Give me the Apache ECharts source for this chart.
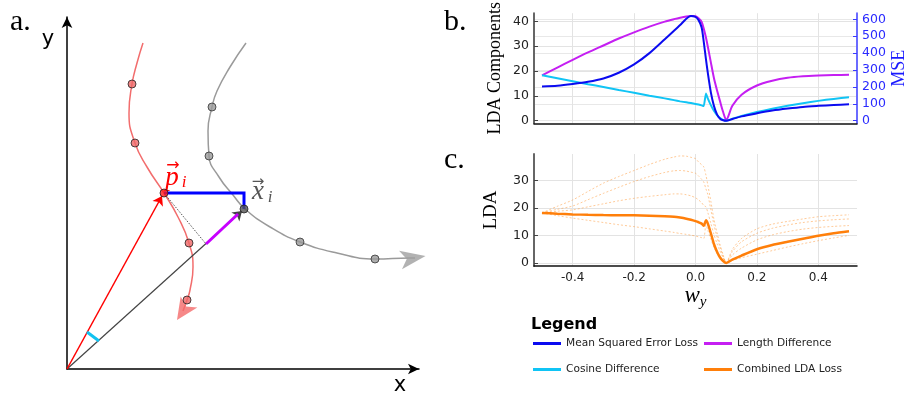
<!DOCTYPE html>
<html><head><meta charset="utf-8">
<script src="https://cdn.jsdelivr.net/npm/echarts@6/dist/echarts.min.js"></script>
<style>html,body{margin:0;padding:0;background:#fff}#c{width:910px;height:399px}</style>
</head><body><div id="c"></div>
<script>
// ---------- Panel a: diagram (units = diagram coordinates) ----------
const redCurve = [[76,326],[70,306],[65,285],[62,256],[68,226],[80,202],[97,176],[111,152],[122,126],[126,102],[123,79],[120,69],[116,58]];
const redArrow = [[116,58],[104,40]];           // base, tip
const grayCurve = [[179,326],[163,302],[150,278],[145,262],[141,238],[142,213],[152,192],[166,174],[178,160],[203,142],[233,127],[270,116],[308,110],[343,111],[348,111]];
const grayArrow = [[346,111],[371,115]];        // base, tip
const redDots = [[65,285],[68,226],[122,126],[120,69]];
const grayDots = [[145,262],[142,213],[233,127],[308,110]];
const pI = [97,176];
const xI = [177,160];
const projPt = [139,125];
const vecRed = [[0,0],[95,173]];
const vecGray = [[0,0],[175,158]];
const lenSeg = [[139,125],[171,155]];
const mseBox = [[97,176],[177,176],[177,160]];
const cosSeg = [[20,37],[32,28]];

// ---------- Panels b / c ----------
const wy = [-0.5,-0.45,-0.4,-0.35,-0.3,-0.25,-0.2,-0.15,-0.1,-0.07,-0.05,-0.03,-0.015,0,0.01,0.02,0.027,0.034,0.04,0.05,0.06,0.07,0.08,0.09,0.1,0.12,0.15,0.2,0.25,0.3,0.35,0.4,0.45,0.5];
const mse = [203,207,217,230,250,284,333,400,482,532,566,603,619,614,595,552,465,364,284,168,88,38,12,3,0,10,26,44,60,72,82,88,93,97];
const lenDiff = [18.3,21.4,24.5,27.5,30.3,33.1,35.6,37.9,39.9,40.9,41.5,42.0,42.2,42.1,41.3,39.8,37.0,33.5,29.9,23.5,17.2,12.3,7.8,3.5,0.3,6.0,10.5,14.2,16.1,17.3,17.9,18.2,18.4,18.5];
const cosDiff = [18.3,17.1,15.9,14.7,13.6,12.4,11.25,10.1,9.0,8.3,7.8,7.4,7.1,6.75,6.5,6.2,5.9,11.0,9.0,6.3,4.0,2.3,1.1,0.35,0,0.8,1.9,3.5,4.8,6.0,7.0,8.0,8.8,9.5];
const combined = [18.3,18.0,17.75,17.6,17.5,17.45,17.4,17.3,17.1,16.9,16.6,16.2,15.8,15.3,14.9,14.4,13.6,15.6,14.5,10.9,7.0,4.2,2.1,0.8,0.1,1.3,2.8,5.1,6.65,7.8,8.9,10.0,10.9,11.6];
const ldaW1 = [18.3,20.7,23.0,26.1,29.1,31.5,33.7,35.9,37.8,38.6,39.0,38.9,38.5,38.0,36.8,35.8,35.0,32.0,28.5,22.5,16.0,11.2,6.8,3.0,0.2,5.0,9.0,12.5,14.2,15.2,16.1,16.9,17.3,17.6];
const ldaW2 = [18.3,19.6,20.8,23.1,25.4,27.6,29.7,31.5,33.0,33.6,33.7,33.5,33.1,32.7,31.7,30.5,29.5,27.0,25.0,19.5,14.0,9.6,5.8,2.6,0.2,4.2,7.8,10.9,12.7,13.9,14.8,15.4,15.8,16.1];
const ldaW3 = [18.3,18.9,19.4,20.5,21.6,22.7,23.6,24.3,24.9,25.2,25.2,24.9,24.5,23.8,23.0,22.0,21.0,20.5,18.5,14.5,10.5,7.2,4.4,2.0,0.2,3.0,5.5,8.5,10.3,11.5,12.4,13.0,13.4,13.7];
const ldaW4 = [18.3,17.3,16.4,15.6,14.8,14.0,13.3,12.5,11.7,11.2,10.8,10.5,10.2,9.9,9.6,9.3,9.0,14.0,12.0,8.8,5.8,3.5,1.8,0.6,0.1,1.0,2.0,3.3,4.6,5.9,7.1,8.2,9.2,10.1];

const xTicks = [-0.4,-0.2,0,0.2,0.4];
const bLeftTicks = [0,10,20,30,40];
const bRightTicks = [0,100,200,300,400,500,600];
const cTicks = [0,10,20,30];
const legendNames = ['Mean Squared Error Loss','Length Difference','Cosine Difference','Combined LDA Loss'];

const C_BLUE = '#0b0bf0', C_MAG = '#c51ff2', C_CYAN = '#10c4f5', C_ORANGE = '#ff7f0a';

const zip = (xs, ys) => xs.map((x, i) => [x, ys[i]]);
function arrowHead(seg, width) {
  const [b, t] = seg;
  const dx = t[0]-b[0], dy = t[1]-b[1];
  const len = Math.hypot(dx, dy);
  const rot = Math.atan2(dy, dx) * 180 / Math.PI - 90;
  return { center: [(b[0]+t[0])/2, (b[1]+t[1])/2], rot, size: [width, len] };
}
const rA = arrowHead(redArrow, 15);
const gA = arrowHead(grayArrow, 14);

const serif = 'Liberation Serif';
const sans = 'DejaVu Sans';

const xAxisBC = (grid, showLabels) => ({
  gridIndex: grid, type: 'value', min: -0.526, max: 0.526,
  axisLine: { show: true, onZero: false, lineStyle: { color: '#111', width: 1.5 } },
  axisTick: { show: false, customValues: xTicks },
  axisLabel: { show: showLabels, customValues: xTicks, fontFamily: sans, fontSize: 12, color: '#222', margin: 6,
               formatter: v => v.toFixed(1) },
  splitLine: { show: true, lineStyle: { color: '#e3e3e3', width: 1 } }
});

const dashedSeries = [ldaW1, ldaW2, ldaW3, ldaW4].map((arr, i) => ({
  type: 'line', name: 'w' + (i+1), xAxisIndex: 2, yAxisIndex: 3, data: zip(wy, arr),
  showSymbol: false, smooth: 0.25, silent: true,
  lineStyle: { color: 'rgba(255,140,30,0.45)', width: 1, type: [2, 2] }
}));

const hidden = { axisLabel: { show: false }, axisTick: { show: false }, splitLine: { show: false } };

const option = {
  animation: false,
  backgroundColor: '#fff',
  grid: [
    { left: 67, top: 17, width: 352, height: 352 },
    { left: 534, top: 11, width: 323, height: 112.3 },
    { left: 534, top: 154, width: 323, height: 112 }
  ],
  xAxis: [
    Object.assign({ gridIndex: 0, type: 'value', min: 0, max: 352,
      axisLine: { show: true, onZero: false, symbol: ['none', 'arrow'], symbolSize: [8, 11], lineStyle: { color: '#000', width: 1.5 } } }, hidden),
    xAxisBC(1, false),
    Object.assign(xAxisBC(2, true), {
      name: '{w|w}{s|y}', nameLocation: 'middle', nameGap: 14,
      nameTextStyle: { rich: {
        w: { fontFamily: serif, fontStyle: 'italic', fontSize: 23, color: '#000' },
        s: { fontFamily: serif, fontStyle: 'italic', fontSize: 15, color: '#000', padding: [12, 0, 0, 0] }
      } }
    })
  ],
  yAxis: [
    Object.assign({ gridIndex: 0, type: 'value', min: 0, max: 352,
      axisLine: { show: true, onZero: false, symbol: ['none', 'arrow'], symbolSize: [8, 11], lineStyle: { color: '#000', width: 1.5 } } }, hidden),
    { gridIndex: 1, type: 'value', min: -1.03, max: 43.3, position: 'left',
      name: 'LDA Components', nameLocation: 'middle', nameGap: 30, nameRotate: 90,
      nameTextStyle: { fontFamily: serif, fontSize: 18, color: '#000' },
      axisLine: { show: true, onZero: false, lineStyle: { color: '#666', width: 2 } },
      axisTick: { show: true, inside: true, length: 4, customValues: bLeftTicks, lineStyle: { color: '#444' } },
      axisLabel: { customValues: bLeftTicks, fontFamily: sans, fontSize: 12.5, color: '#222', margin: 5 },
      splitLine: { show: true, lineStyle: { color: '#e3e3e3' } } },
    { gridIndex: 1, type: 'value', min: -15.1, max: 636, position: 'right',
      name: 'MSE', nameLocation: 'middle', nameGap: 33, nameRotate: 90,
      nameTextStyle: { fontFamily: serif, fontSize: 18, color: '#1a1aff' },
      axisLine: { show: true, onZero: false, lineStyle: { color: '#6b6bff', width: 2 } },
      axisTick: { show: true, inside: true, length: 4, customValues: bRightTicks, lineStyle: { color: '#3a3aff' } },
      axisLabel: { customValues: bRightTicks, fontFamily: sans, fontSize: 12.5, color: '#2a2aff', margin: 5 },
      splitLine: { show: true, lineStyle: { color: '#e8e8e8' } } },
    { gridIndex: 2, type: 'value', min: -1.0, max: 39.7,
      name: 'LDA', nameLocation: 'middle', nameGap: 33, nameRotate: 90,
      nameTextStyle: { fontFamily: serif, fontSize: 19, color: '#000' },
      axisLine: { show: true, onZero: false, lineStyle: { color: '#666', width: 2 } },
      axisTick: { show: true, inside: true, length: 4, customValues: cTicks, lineStyle: { color: '#444' } },
      axisLabel: { customValues: cTicks, fontFamily: sans, fontSize: 12.5, color: '#222', margin: 5 },
      splitLine: { show: true, lineStyle: { color: '#e3e3e3' } } }
  ],
  legend: legendNames.map((n, i) => ({
    data: [n], left: i % 2 === 0 ? 533 : 704, top: i < 2 ? 338 : 364, padding: 0,
    icon: 'rect', itemWidth: 28, itemHeight: 3, selectedMode: false,
    textStyle: { fontFamily: sans, fontSize: 10.6, color: '#222' }
  })),
  graphic: [
    { type: 'text', x: 10, y: 22, style: { text: 'a.', font: '30px "Liberation Serif"', fill: '#000', verticalAlign: 'middle' } },
    { type: 'text', x: 444, y: 22, style: { text: 'b.', font: '30px "Liberation Serif"', fill: '#000', verticalAlign: 'middle' } },
    { type: 'text', x: 444, y: 160, style: { text: 'c.', font: '30px "Liberation Serif"', fill: '#000', verticalAlign: 'middle' } },
    { type: 'text', x: 400, y: 386, style: { text: 'x', font: '21px "DejaVu Sans"', fill: '#000', align: 'center', verticalAlign: 'middle' } },
    { type: 'text', x: 48, y: 40, style: { text: 'y', font: '21px "DejaVu Sans"', fill: '#000', align: 'center', verticalAlign: 'middle' } },
    { type: 'text', x: 173, y: 166, style: { text: '\u2192', font: '16px "DejaVu Sans"', fill: '#f00', align: 'center', verticalAlign: 'middle' } },
    { type: 'text', x: 172, y: 178, style: { text: 'p', font: 'italic 27px "Liberation Serif"', fill: '#f00', align: 'center', verticalAlign: 'middle' } },
    { type: 'text', x: 184, y: 183, style: { text: 'i', font: 'italic 17px "Liberation Serif"', fill: '#f00', align: 'center', verticalAlign: 'middle' } },
    { type: 'text', x: 258, y: 182, style: { text: '\u2192', font: '15px "DejaVu Sans"', fill: '#555', align: 'center', verticalAlign: 'middle' } },
    { type: 'text', x: 258, y: 192, style: { text: 'x', font: 'italic 27px "Liberation Serif"', fill: '#555', align: 'center', verticalAlign: 'middle' } },
    { type: 'text', x: 270, y: 198, style: { text: 'i', font: 'italic 17px "Liberation Serif"', fill: '#555', align: 'center', verticalAlign: 'middle' } },
    { type: 'text', x: 531, y: 325, style: { text: 'Legend', font: 'bold 16px "DejaVu Sans"', fill: '#000', verticalAlign: 'middle' } }
  ],
  series: [
    // panel a
    { type: 'line', xAxisIndex: 0, yAxisIndex: 0, data: redCurve, smooth: 0.5, showSymbol: false, silent: true, z: 2,
      lineStyle: { color: '#f26d6d', width: 1.5 } },
    { type: 'scatter', xAxisIndex: 0, yAxisIndex: 0, silent: true, z: 2, clip: false, symbol: 'arrow', symbolSize: rA.size,
      data: [{ value: rA.center, symbolRotate: rA.rot }], itemStyle: { color: '#f46a6a' } },
    { type: 'line', xAxisIndex: 0, yAxisIndex: 0, data: grayCurve, smooth: 0.5, showSymbol: false, silent: true, z: 2, clip: false,
      lineStyle: { color: '#9a9a9a', width: 1.5 } },
    { type: 'scatter', xAxisIndex: 0, yAxisIndex: 0, silent: true, z: 2, clip: false, symbol: 'arrow', symbolSize: gA.size,
      data: [{ value: gA.center, symbolRotate: gA.rot }], itemStyle: { color: '#9f9f9f' } },
    { type: 'line', xAxisIndex: 0, yAxisIndex: 0, data: [pI, projPt], showSymbol: false, silent: true, z: 3,
      lineStyle: { color: '#555', width: 1, type: [1.5, 1.5] } },
    { type: 'lines', coordinateSystem: 'cartesian2d', xAxisIndex: 0, yAxisIndex: 0, silent: true, z: 3,
      data: [{ coords: vecGray }], symbol: ['none', 'arrow'], symbolSize: 9,
      lineStyle: { color: '#444', width: 1.2, opacity: 1, curveness: 0 } },
    { type: 'line', xAxisIndex: 0, yAxisIndex: 0, data: lenSeg, showSymbol: false, silent: true, z: 4,
      lineStyle: { color: '#c800ff', width: 3 } },
    { type: 'lines', coordinateSystem: 'cartesian2d', xAxisIndex: 0, yAxisIndex: 0, silent: true, z: 4,
      data: [{ coords: vecRed }], symbol: ['none', 'arrow'], symbolSize: 9,
      lineStyle: { color: '#ff0000', width: 1.5, opacity: 1, curveness: 0 } },
    { type: 'line', xAxisIndex: 0, yAxisIndex: 0, data: mseBox, showSymbol: false, silent: true, z: 4,
      lineStyle: { color: '#0000ff', width: 3, join: 'miter' } },
    { type: 'line', xAxisIndex: 0, yAxisIndex: 0, data: cosSeg, showSymbol: false, silent: true, z: 4,
      lineStyle: { color: '#12c2f0', width: 3 } },
    { type: 'scatter', xAxisIndex: 0, yAxisIndex: 0, data: redDots, symbolSize: 8, silent: true, z: 6,
      itemStyle: { color: '#ee6666', borderColor: '#222', borderWidth: 1 } },
    { type: 'scatter', xAxisIndex: 0, yAxisIndex: 0, data: [pI], symbolSize: 8, silent: true, z: 6,
      itemStyle: { color: '#ff1a1a', borderColor: '#222', borderWidth: 1 } },
    { type: 'scatter', xAxisIndex: 0, yAxisIndex: 0, data: grayDots, symbolSize: 8, silent: true, z: 6,
      itemStyle: { color: '#999', borderColor: '#333', borderWidth: 1 } },
    { type: 'scatter', xAxisIndex: 0, yAxisIndex: 0, data: [xI], symbolSize: 8, silent: true, z: 6,
      itemStyle: { color: '#555', borderColor: '#222', borderWidth: 1 } },
    // panel b
    { type: 'line', name: 'Length Difference', xAxisIndex: 1, yAxisIndex: 1, data: zip(wy, lenDiff),
      showSymbol: false, smooth: 0.25, clip: false, color: C_MAG, lineStyle: { color: C_MAG, width: 2 } },
    { type: 'line', name: 'Cosine Difference', xAxisIndex: 1, yAxisIndex: 1, data: zip(wy, cosDiff),
      showSymbol: false, smooth: 0.1, clip: false, color: C_CYAN, lineStyle: { color: C_CYAN, width: 2 } },
    { type: 'line', name: 'Mean Squared Error Loss', xAxisIndex: 1, yAxisIndex: 2, data: zip(wy, mse),
      showSymbol: false, smooth: 0.25, clip: false, color: C_BLUE, lineStyle: { color: C_BLUE, width: 2 } },
    // panel c
    ...dashedSeries,
    { type: 'line', name: 'Combined LDA Loss', xAxisIndex: 2, yAxisIndex: 3, data: zip(wy, combined),
      showSymbol: false, smooth: 0.2, clip: false, color: C_ORANGE, lineStyle: { color: C_ORANGE, width: 2.5 } }
  ]
};

const chart = echarts.init(document.getElementById('c'), null, { renderer: 'canvas' });
chart.setOption(option);
</script>
</body></html>
